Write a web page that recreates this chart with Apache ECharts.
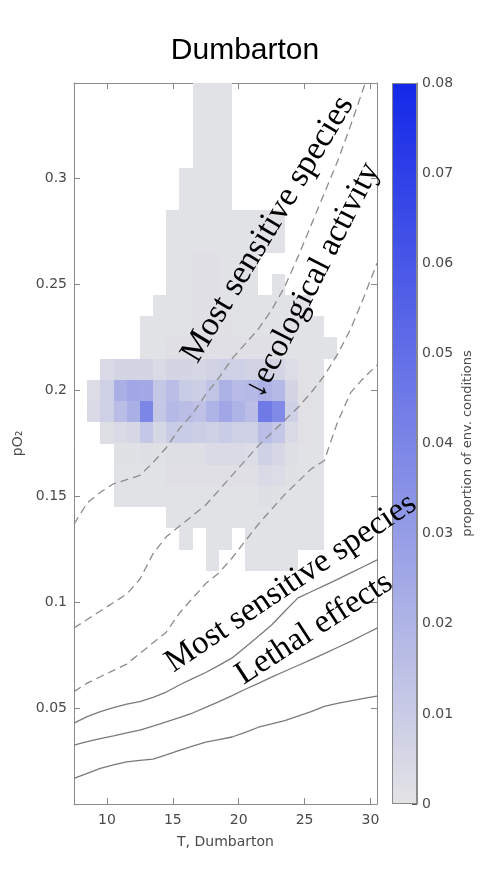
<!DOCTYPE html>
<html><head><meta charset="utf-8">
<script src="https://cdn.jsdelivr.net/npm/echarts@6/dist/echarts.min.js"></script>
<style>html,body{margin:0;padding:0;background:#fff}#c{width:490px;height:871px}</style>
</head><body><div id="c"></div>
<script>
// ---------- data ----------
const titleText = 'Dumbarton';
const xName = 'T, Dumbarton';
const yName = 'pO\u2082';
const cbName = 'proportion of env. conditions';

const tempBins = [8,9,10,11,12,13,14,15,16,17,18,19,20,21,22,23,24,25,26,27,28,29,30];
const pO2Rows = [0.34,0.33,0.32,0.31,0.30,0.29,0.28,0.27,0.26,0.25,0.24,0.23,0.22,0.21,0.20,0.19,0.18,0.17,0.16,0.15,0.14,0.13,0.12];
const _ = null;
// proportion of env. conditions, in per mille (null = no data)
const cellPermille = [
/*0.34*/[_,_,_,_,_,_,_,_,_,.6,.6,.6,_,_,_,_,_,_,_,_,_,_,_],
/*0.33*/[_,_,_,_,_,_,_,_,_,.6,.6,.6,_,_,_,_,_,_,_,_,_,_,_],
/*0.32*/[_,_,_,_,_,_,_,_,_,.6,.6,.6,_,_,_,_,_,_,_,_,_,_,_],
/*0.31*/[_,_,_,_,_,_,_,_,_,.6,.6,.6,_,_,_,_,_,_,_,_,_,_,_],
/*0.30*/[_,_,_,_,_,_,_,_,.6,.6,.6,.6,_,_,_,_,_,_,_,_,_,_,_],
/*0.29*/[_,_,_,_,_,_,_,_,.6,.6,.6,.6,_,_,_,_,_,_,_,_,_,_,_],
/*0.28*/[_,_,_,_,_,_,_,.6,.6,.6,.6,.6,.6,.6,.6,.6,_,_,_,_,_,_,_],
/*0.27*/[_,_,_,_,_,_,_,.6,.6,.6,.6,.6,.6,.6,.6,.6,_,_,_,_,_,_,_],
/*0.26*/[_,_,_,_,_,_,_,.6,.6,1.5,1.5,.6,.6,.6,_,_,_,_,_,_,_,_,_],
/*0.25*/[_,_,_,_,_,_,_,.6,.6,1.5,1.5,.6,.6,.6,_,.6,_,_,_,_,_,_,_],
/*0.24*/[_,_,_,_,_,_,.6,.6,.6,1.5,1.5,.6,.6,.6,.6,.6,.6,.6,_,_,_,_,_],
/*0.23*/[_,_,_,_,_,.6,.6,.6,.6,1.2,1.2,1.2,.6,.6,.6,.6,.6,.6,.6,_,_,_,_],
/*0.22*/[_,_,_,_,_,.6,.6,1.5,1.5,1.5,1.5,1.5,1.5,1.5,1.5,.6,.6,.6,.6,.6,_,_,_],
/*0.21*/[_,_,4,6,6,6,4,6,6,5,7,8,8,7,7,6,3,.8,.6,_,_,_,_],
/*0.20*/[_,3,8,22,26,25,12,16,10,9,13,21,17,18,21,18,6,.8,.6,_,_,_,_],
/*0.19*/[_,4,8,16,22,40,12,18,16,14,20,26,20,16,45,38,8,.8,.6,_,_,_,_],
/*0.18*/[_,_,2,4,5,12,5,10,10,9,8,10,8,8,16,12,4,.8,.6,_,_,_,_],
/*0.17*/[_,_,_,1,1,2,1,2,2,2,4,4,4,3,8,5,2,.6,.6,_,_,_,_],
/*0.16*/[_,_,_,.6,.6,.6,.6,1.5,1.5,1.5,1.5,1.5,1.5,1.5,4,3,1,.6,.6,_,_,_,_],
/*0.15*/[_,_,_,.6,.6,.6,.6,.6,.6,.6,.6,.6,.6,.6,2,1,.6,.6,.6,_,_,_,_],
/*0.14*/[_,_,_,_,_,_,_,.6,.6,.6,.6,.6,.6,.6,.6,.6,.6,.6,.6,_,_,_,_],
/*0.13*/[_,_,_,_,_,_,_,_,.6,_,.6,.6,_,.6,.6,.6,.6,.6,.6,_,_,_,_],
/*0.12*/[_,_,_,_,_,_,_,_,_,_,.6,_,_,.6,.6,.6,.6,_,_,_,_,_,_]
];

const xTicks = [10,15,20,25,30];
const yTicks = [0.05,0.1,0.15,0.2,0.25,0.3];
const cbMax = 0.08;

// threshold curves
const lineT = [7.5,8.5,9.5,10.5,11.5,12.5,13.5,14.5,15.5,16.5,17.5,18.5,19.5,20.5,21.5,22.5,23.5,24.5,25.5,26.5,27.5,28.5,29.5,30.5];
const dashed1 = [.137,.147,.152,.156,.158,.160,.166,.173,.182,.189,.198,.206,.215,.222,.229,.238,.249,.263,.278,.293,.308,.325,.343,.360];
const dashed2 = [.088,.092,.096,.100,.104,.111,.123,.131,.136,.141,.146,.153,.160,.167,.174,.180,.186,.192,.199,.207,.217,.229,.244,.260];
const dashed3 = [.058,.062,.065,.068,.071,.076,.081,.086,.095,.102,.109,.114,.121,.129,.137,.144,.151,.157,.163,.167,.185,.199,.206,.212];
const solid1 = [.0431,.0462,.0486,.0505,.0521,.0533,.0553,.0578,.0611,.0641,.0670,.0704,.0739,.0789,.0841,.0894,.0959,.1022,.1051,.1080,.1109,.1140,.1170,.1201];
const solid2 = [.0328,.0344,.0358,.0371,.0385,.0398,.0417,.0437,.0457,.0479,.0506,.0533,.0561,.0591,.0619,.0648,.0676,.0703,.0731,.0759,.0788,.0817,.0848,.0879];
const solid3 = [.0171,.0194,.0218,.0234,.0249,.0256,.0262,.0282,.0303,.0323,.0342,.0354,.0366,.0388,.0412,.0428,.0443,.0464,.0486,.0510,.0524,.0536,.0548,.0559];

// annotations (data coordinates of text centre, angle in degrees, font size)
const annoText = ['Most sensitive species', '\u2193ecological activity', 'Most sensitive species', 'Lethal effects'];
const annoT = [22.22, 25.64, 23.97, 25.73];
const annoP = [0.2760, 0.2519, 0.1092, 0.0877];
const annoAngle = [59, 63, 34, 33];
const annoSize = [34, 33, 33, 33];

// ---------- build ----------
const LO = '#e3e3e5', HI = '#1428e8';
const AX = '#8a8a8a', LBL = '#4a4a4a';
const sans = "'DejaVu Sans', sans-serif";

const heatData = [];
cellPermille.forEach((row, r) => row.forEach((v, c) => {
  if (v !== null) heatData.push([tempBins[c], pO2Rows[r], v / 1000]);
}));
const toLine = arr => lineT.map((t, i) => [t, arr[i]]);

function lineSeries(arr, dashed) {
  return {
    type: 'line', xAxisIndex: 0, yAxisIndex: 0, data: toLine(arr), showSymbol: false, symbol: 'none',
    silent: true, z: 3, clip: true,
    lineStyle: { color: dashed ? '#8c8c8c' : '#7a7a7a', width: 1.3, type: dashed ? [8, 5] : 'solid' }
  };
}

const axisCommon = {
  axisLine: { show: true, onZero: false, lineStyle: { color: AX, width: 1 } },
  splitLine: { show: false }
};

const chart = echarts.init(document.getElementById('c'), null, { renderer: 'canvas' });
const option = {
  animation: false,
  backgroundColor: '#fff',
  title: { text: titleText, left: 'center', top: 31,
    textStyle: { fontFamily: "'Liberation Sans', Arial, sans-serif", fontSize: 30, fontWeight: 'normal', color: '#000' } },
  grid: [
    { left: 74, top: 83, width: 303, bottom: 67, outerBoundsMode: 'none' },
    { left: 392, top: 83, width: 25, bottom: 67, outerBoundsMode: 'none' }
  ],
  visualMap: { show: false, type: 'continuous', min: 0, max: cbMax, dimension: 2, seriesIndex: 0,
    inRange: { color: [LO, HI] } },
  xAxis: [
    Object.assign({ type: 'value', gridIndex: 0, min: 7.5, max: 30.5, position: 'bottom',
      name: xName, nameLocation: 'middle', nameGap: 31,
      nameTextStyle: { fontFamily: sans, fontSize: 14, color: LBL },
      axisTick: { show: true, inside: true, length: 6, customValues: xTicks, lineStyle: { color: AX } },
      axisLabel: { show: true, customValues: xTicks, margin: 9, fontFamily: sans, fontSize: 14, color: LBL } }, axisCommon),
    Object.assign({ type: 'value', gridIndex: 0, min: 7.5, max: 30.5, position: 'top',
      axisTick: { show: true, inside: true, length: 6, customValues: xTicks, lineStyle: { color: AX } },
      axisLabel: { show: false } }, axisCommon),
    { type: 'category', gridIndex: 1, data: ['cb'], show: false }
  ],
  yAxis: [
    Object.assign({ type: 'value', gridIndex: 0, min: 0.005, max: 0.345, position: 'left',
      name: yName, nameLocation: 'middle', nameGap: 46,
      nameTextStyle: { fontFamily: sans, fontSize: 14, color: LBL },
      axisTick: { show: true, inside: true, length: 6, customValues: yTicks, lineStyle: { color: AX } },
      axisLabel: { show: true, customValues: yTicks, margin: 7, fontFamily: sans, fontSize: 14, color: LBL,
        formatter: v => String(+v.toFixed(3)) } }, axisCommon),
    Object.assign({ type: 'value', gridIndex: 0, min: 0.005, max: 0.345, position: 'right',
      axisTick: { show: true, inside: true, length: 6, customValues: yTicks, lineStyle: { color: AX } },
      axisLabel: { show: false } }, axisCommon),
    Object.assign({ type: 'value', gridIndex: 1, min: 0, max: cbMax, interval: 0.01, position: 'right',
      name: cbName, nameLocation: 'middle', nameGap: 44,
      nameTextStyle: { fontFamily: sans, fontSize: 13, color: LBL },
      axisTick: { show: true, inside: true, length: 5, lineStyle: { color: '#555' } },
      axisLabel: { show: true, margin: 5, fontFamily: sans, fontSize: 14, color: LBL,
        formatter: v => String(+v.toFixed(3)) } }, axisCommon)
  ],
  series: [
    {
      type: 'custom', xAxisIndex: 0, yAxisIndex: 0, data: heatData, clip: true, silent: true, z: 1,
      encode: { x: 0, y: 1 },
      renderItem: function (params, api) {
        const t = api.value(0), p = api.value(1);
        const a = api.coord([t - 0.5, p + 0.005]);
        const b = api.coord([t + 0.5, p - 0.005]);
        const x0 = Math.round(a[0]), y0 = Math.round(a[1]);
        const x1 = Math.round(b[0]), y1 = Math.round(b[1]);
        return { type: 'rect', shape: { x: x0, y: y0, width: x1 - x0, height: y1 - y0 },
          style: { fill: api.visual('color') } };
      }
    },
    lineSeries(dashed1, true), lineSeries(dashed2, true), lineSeries(dashed3, true),
    lineSeries(solid1, false), lineSeries(solid2, false), lineSeries(solid3, false),
    {
      type: 'bar', xAxisIndex: 2, yAxisIndex: 2, data: [cbMax], barWidth: '100%', silent: true,
      itemStyle: {
        color: new echarts.graphic.LinearGradient(0, 1, 0, 0, [{ offset: 0, color: LO }, { offset: 1, color: HI }]),
        borderColor: AX, borderWidth: 1
      }
    }
  ]
};
chart.setOption(option);

const graphics = annoText.map((txt, i) => {
  const pt = chart.convertToPixel({ xAxisIndex: 0, yAxisIndex: 0 }, [annoT[i], annoP[i]]);
  return {
    type: 'text', x: pt[0], y: pt[1], rotation: annoAngle[i] * Math.PI / 180, z: 10, silent: true,
    style: { text: txt, fontFamily: "'Liberation Serif', serif", fontSize: annoSize[i], fill: '#000',
      align: 'center', verticalAlign: 'middle' }
  };
});
chart.setOption({ graphic: graphics });
</script>
</body></html>
